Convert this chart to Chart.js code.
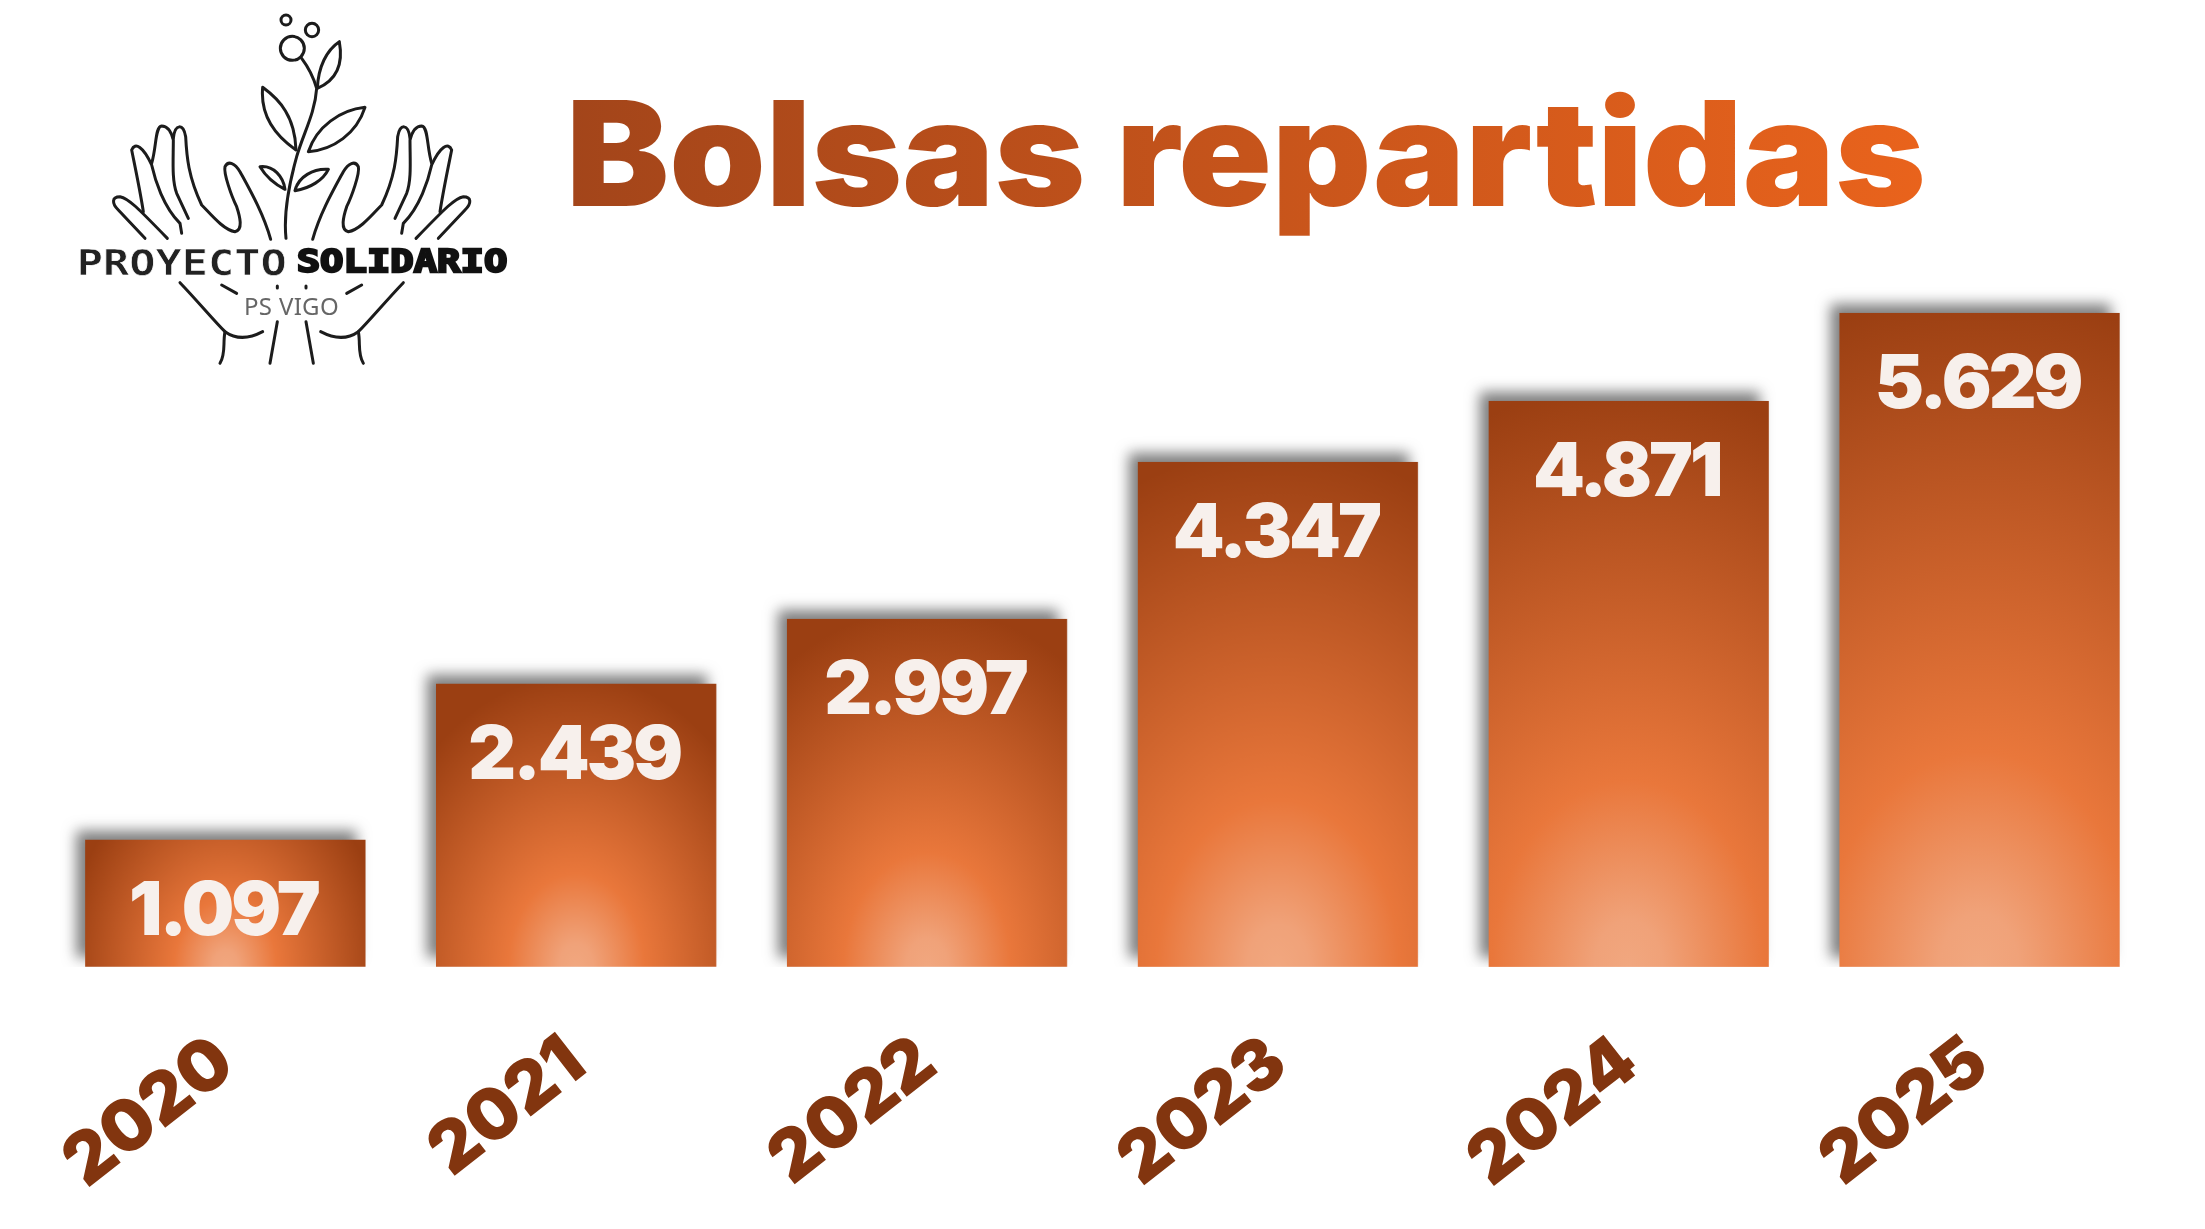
<!DOCTYPE html>
<html lang="es">
<head>
<meta charset="utf-8">
<title>Bolsas repartidas</title>
<script src="https://cdn.jsdelivr.net/npm/chart.js@4"></script>
<style>
  html, body { margin: 0; background: #fff; }
  #wrap { position: relative; width: 2205px; height: 1229px; overflow: hidden; }
  #bolsasChart { position: absolute; left: 0; top: 0; }
  #logo { position: absolute; left: 40px; top: 0; width: 520px; height: 380px; }
  h1 {
    position: absolute; left: 566px; top: 66px; margin: 0;
    font: 900 146px/1.2 Inter, sans-serif;
    white-space: nowrap;
    transform: scaleX(1.058);
    transform-origin: left top;
    background: linear-gradient(90deg, #a3451a, #e9631c);
    -webkit-background-clip: text; background-clip: text; color: transparent;
  }
</style>
</head>
<body>
<div id="wrap">
  <canvas id="bolsasChart" width="2205" height="1229"></canvas>
  <h1>Bolsas repartidas</h1>
  <svg id="logo" viewBox="0 0 1560 1140">
    <defs>
      <g id="hand" fill="none" stroke="#1c1c1c" stroke-width="9" stroke-linecap="round" stroke-linejoin="round">
        <path d="M315 715 L235 630 C215 610 215 590 240 590 C265 595 290 620 382 715"/>
        <path d="M310 635 C300 570 285 500 275 450 C285 425 310 440 335 495 C345 540 370 620 420 670 L425 700"/>
        <path d="M335 490 C350 440 345 380 365 378 C385 378 395 400 400 420 C400 480 395 540 410 580 L445 655"/>
        <path d="M400 415 C405 370 430 370 437 410 C440 470 445 530 485 615 C510 640 550 690 585 695 C610 690 600 650 590 620 C575 590 550 520 555 500 C565 480 585 490 600 515 C630 570 670 640 692 718"/>
        <path d="M420 848 C470 900 520 960 555 995 C590 1020 630 1015 668 995"/>
        <path d="M555 995 C548 1030 558 1060 540 1090"/>
        <path d="M712 965 L690 1090"/>
        <path d="M545 855 L590 880"/>
        <path d="M712 858 L712 864"/>
      </g>
    </defs>
    <use href="#hand"/>
    <use href="#hand" transform="translate(1510 0) scale(-1 1)"/>
    <g fill="none" stroke="#1c1c1c" stroke-width="9" stroke-linecap="round" stroke-linejoin="round">
      <circle cx="738" cy="60" r="15"/>
      <circle cx="816" cy="90" r="20"/>
      <circle cx="757" cy="145" r="36"/>
      <path d="M738 715 C730 640 745 560 770 470 C790 400 825 340 830 265 C820 230 800 195 785 175"/>
      <path d="M832 265 C835 200 860 150 898 125 C910 190 890 240 832 265Z"/>
      <path d="M668 262 C720 300 765 350 768 450 C710 410 660 350 668 262Z"/>
      <path d="M975 322 C900 330 830 380 805 455 C880 450 950 400 975 322Z"/>
      <path d="M660 500 C700 495 730 530 735 568 C700 550 675 525 660 500Z"/>
      <path d="M865 508 C820 505 775 530 765 572 C810 565 850 540 865 508Z"/>
    </g>
    <text x="110" y="826" textLength="630" lengthAdjust="spacingAndGlyphs" fill="#222" stroke="#fff" stroke-width="2"
      font-family="DejaVu Sans Mono" font-weight="700" font-size="108">PROYECTO</text>
    <text x="770" y="816" textLength="632" lengthAdjust="spacingAndGlyphs" fill="#111" stroke="#111" stroke-width="7"
      font-family="DejaVu Sans Mono" font-weight="700" font-size="96">SOLIDARIO</text>
    <text x="612" y="946" textLength="284" fill="#666"
      font-family="Noto Sans" font-size="72">PS VIGO</text>
  </svg>
</div>
<script>
const years = ["2020", "2021", "2022", "2023", "2024", "2025"];
const bags = [1097, 2439, 2997, 4347, 4871, 5629];

// elliptical glow from the bottom centre of each bar
function barFill(context) {
  const chart = context.chart;
  if (!chart.chartArea || context.dataIndex === undefined) return "#c65f28";
  const xScale = chart.scales.x;
  const yScale = chart.scales.y;
  const center = xScale.getPixelForValue(context.dataIndex);
  const top = yScale.getPixelForValue(bags[context.dataIndex]);
  const base = yScale.getPixelForValue(0);
  const h = base - top;
  const w = xScale.width / years.length * 0.8;
  const radiusX = Math.max(160, h * 0.75);
  const radiusY = Math.max(h * 1.03, 210);

  const off = document.createElement("canvas");
  off.width = Math.ceil(w);
  off.height = Math.ceil(h);
  const g = off.getContext("2d");
  g.translate(w / 2, h);
  g.scale(radiusX, radiusY);
  const grad = g.createRadialGradient(0, 0, 0, 0, 0, 1);
  grad.addColorStop(0, "#f1a77f");
  grad.addColorStop(0.08, "#f0a279");
  grad.addColorStop(0.32, "#e9773b");
  grad.addColorStop(1, "#9b3f12");
  g.fillStyle = grad;
  g.fillRect(-w / 2 / radiusX, -h / radiusY, w / radiusX, h / radiusY);

  const pattern = chart.ctx.createPattern(off, "no-repeat");
  pattern.setTransform(new DOMMatrix().translate(center - w / 2, top));
  return pattern;
}

const barShadow = {
  id: "barShadow",
  beforeDatasetsDraw(chart) {
    const ctx = chart.ctx;
    ctx.save();
    ctx.shadowColor = "rgba(40, 40, 40, 0.6)";
    ctx.shadowBlur = 14;
    ctx.shadowOffsetX = -9;
    ctx.shadowOffsetY = -9;
  },
  afterDatasetsDraw(chart) {
    chart.ctx.restore();
  },
};

const valueLabels = {
  id: "valueLabels",
  afterDraw(chart) {
    const ctx = chart.ctx;
    ctx.save();
    ctx.font = "900 74px Inter, sans-serif";
    ctx.letterSpacing = "-3px";
    ctx.fillStyle = "#f7f0ec";
    ctx.textAlign = "center";
    ctx.textBaseline = "alphabetic";
    chart.getDatasetMeta(0).data.forEach((bar, i) => {
      const text = String(bags[i]).replace(/\B(?=(\d{3})+$)/, ".");
      ctx.fillText(text, bar.x - 2, bar.y + 95);
    });
    ctx.restore();
  },
};

new Chart(document.getElementById("bolsasChart"), {
  type: "bar",
  data: {
    labels: years,
    datasets: [
      {
        label: "Bolsas repartidas",
        data: bags,
        backgroundColor: barFill,
        borderWidth: 0,
        categoryPercentage: 1,
        barPercentage: 0.8,
      },
    ],
  },
  options: {
    responsive: false,
    animation: false,
    layout: { padding: { left: 50, right: 50, top: 0, bottom: 0 } },
    plugins: {
      legend: { display: false },
      tooltip: { enabled: false },
    },
    scales: {
      x: {
        grid: { display: false },
        border: { display: false },
        afterFit: (scale) => { scale.height = 262; },
        ticks: {
          color: "#82350f",
          font: { family: "Inter, sans-serif", size: 71, weight: "900" },
          minRotation: 38,
          maxRotation: 38,
          padding: 45,
        },
      },
      y: { display: false, min: 0, max: 8320 },
    },
  },
  plugins: [barShadow, valueLabels],
});
</script>
</body>
</html>
